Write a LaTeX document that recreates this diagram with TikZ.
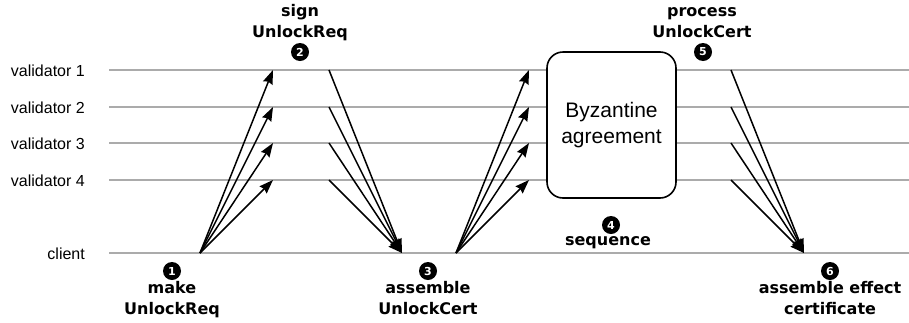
\documentclass[tikz,border=0pt]{standalone}
\usepackage{fontspec}
\setmainfont{Liberation Sans}
\newfontfamily\stepfont{DejaVu Sans}
\usetikzlibrary{arrows.meta}

\tikzset{
  lane/.style={draw=black!33, line width=1.3pt},
  lanelabel/.style={anchor=base east, inner sep=0pt, font=\fontsize{16}{19}\selectfont},
  msg/.style={draw=black, line width=1.5pt, -{Stealth[length=14pt,width=10pt,inset=1.5pt]}},
  % multi-line labels are placed by the baseline of their last line
  steplabel/.style={align=center, inner sep=0pt, anchor=base,
    font=\stepfont\bfseries\fontsize{16}{20.5}\selectfont},
  stepnum/.style={circle, fill=black, text=white, minimum size=18pt, inner sep=0pt,
    font=\stepfont\bfseries\fontsize{11}{12}\selectfont},
  consensus/.style={draw=black, line width=1.6pt, rounded corners=16pt, fill=white,
    minimum width=129pt, minimum height=146pt, inner sep=0pt, align=center,
    font=\fontsize{21}{26}\selectfont}
}

\begin{document}
\begin{tikzpicture}[x=1pt, y=-1pt]
  \useasboundingbox (0,0) rectangle (909,322);

  % swim lanes
  \foreach \n/\y/\t in {v1/70/validator 1, v2/107/validator 2, v3/143/validator 3, v4/180/validator 4, cl/253/client} {
    \coordinate (\n-start) at (109,\y);
    \coordinate (\n-end) at (909,\y);
    \draw[lane] (\n-start) -- (\n-end);
    \node[lanelabel] (\n-label) at (85,\y+6) {\t};
  }

  % consensus box
  \node[consensus] (bft) at (611.5,125) {Byzantine\\agreement};

  % message end points on the lanes
  \coordinate (req-out) at (200,253);
  \coordinate (cert-in) at (402,253);
  \coordinate (cert-out) at (456,253);
  \coordinate (eff-in) at (804,253);
  \foreach \n/\y in {1/70, 2/107, 3/143, 4/180} {
    \coordinate (sign-in-\n) at (273,\y);
    \coordinate (sign-out-\n) at (329,\y);
    \coordinate (seq-in-\n) at (529,\y);
    \coordinate (proc-out-\n) at (731,\y);
  }

  % messages
  \foreach \n in {1,2,3,4} {
    \draw[msg] (req-out) -- (sign-in-\n);
    \draw[msg] (sign-out-\n) -- (cert-in);
    \draw[msg] (cert-out) -- (seq-in-\n);
    \draw[msg] (proc-out-\n) -- (eff-in);
  }

  % numbered steps
  \node[stepnum] (n1) at (172,271) {1};
  \node[steplabel] (s1) at (172,314) {make\\UnlockReq};

  \node[steplabel] (s2) at (300,37) {sign\\UnlockReq};
  \node[stepnum] (n2) at (300,52) {2};

  \node[stepnum] (n3) at (428,271) {3};
  \node[steplabel] (s3) at (428,314) {assemble\\UnlockCert};

  \node[stepnum] (n4) at (611,225) {4};
  \node[steplabel] (s4) at (608,245) {sequence};

  \node[steplabel] (s5) at (702,37) {process\\UnlockCert};
  \node[stepnum] (n5) at (703,52) {5};

  \node[stepnum] (n6) at (830,271) {6};
  \node[steplabel] (s6) at (830,314) {assemble effect\\certificate};
\end{tikzpicture}
\end{document}
